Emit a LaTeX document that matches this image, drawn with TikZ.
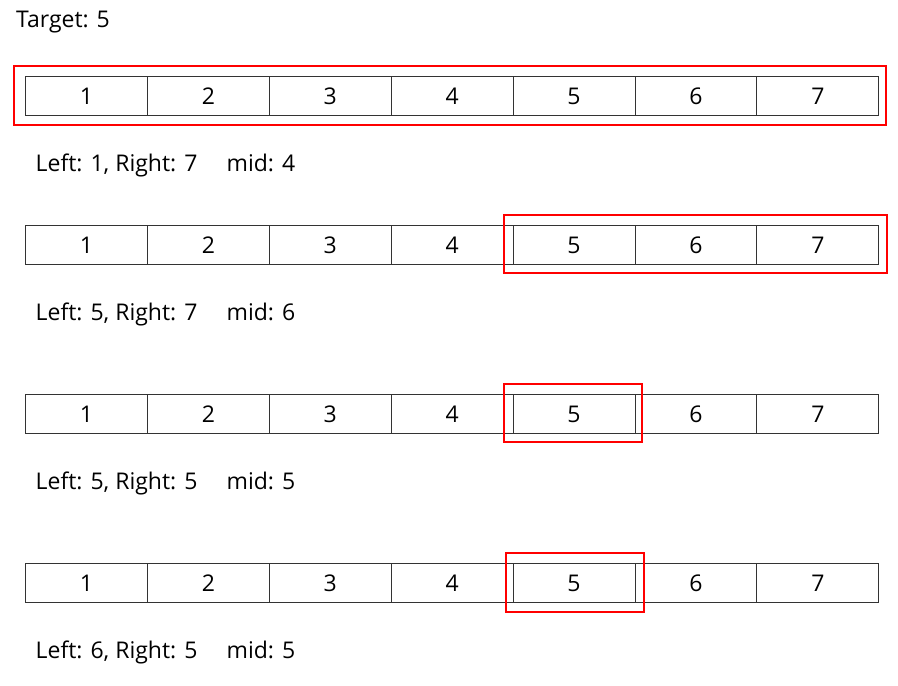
\documentclass[tikz,border=0pt]{standalone}
\usepackage{fontspec}
\setmainfont{Open Sans}
\begin{document}
\begin{tikzpicture}[x=1pt,y=-1pt,
  cell/.style={draw=black!80,line width=1pt,rectangle,minimum width=121.9pt,minimum height=39pt,inner sep=0pt,font=\fontsize{23}{26}\selectfont,anchor=north west},
  sel/.style={draw=red,line width=2pt},
  lbl/.style={anchor=base west,inner sep=0pt,font=\fontsize{23}{26}\selectfont}]
\useasboundingbox (0,0) rectangle (898,686);
\node[lbl] (title) at (16,27) {Target: 5};
\foreach \r/\y in {1/76,2/225,3/394,4/563}{
  \foreach \i in {1,...,7}{
    \node[cell] (c\r\i) at ({25+(\i-1)*121.9},\y) {\i};
  }
}
\draw[sel] (13.7,66) rectangle (886,125);
\draw[sel] (503.5,215) rectangle (886.7,273.3);
\draw[sel] (503.5,384) rectangle (641.5,442.3);
\draw[sel] (506,553.3) rectangle (644,612.3);
\node[lbl] (t1) at (35.5,171) {\makebox[191pt][l]{Left: 1, Right: 7}mid: 4};
\node[lbl] (t2) at (35.5,320) {\makebox[191pt][l]{Left: 5, Right: 7}mid: 6};
\node[lbl] (t3) at (35.5,489) {\makebox[191pt][l]{Left: 5, Right: 5}mid: 5};
\node[lbl] (t4) at (35.5,658) {\makebox[191pt][l]{Left: 6, Right: 5}mid: 5};
\end{tikzpicture}
\end{document}
